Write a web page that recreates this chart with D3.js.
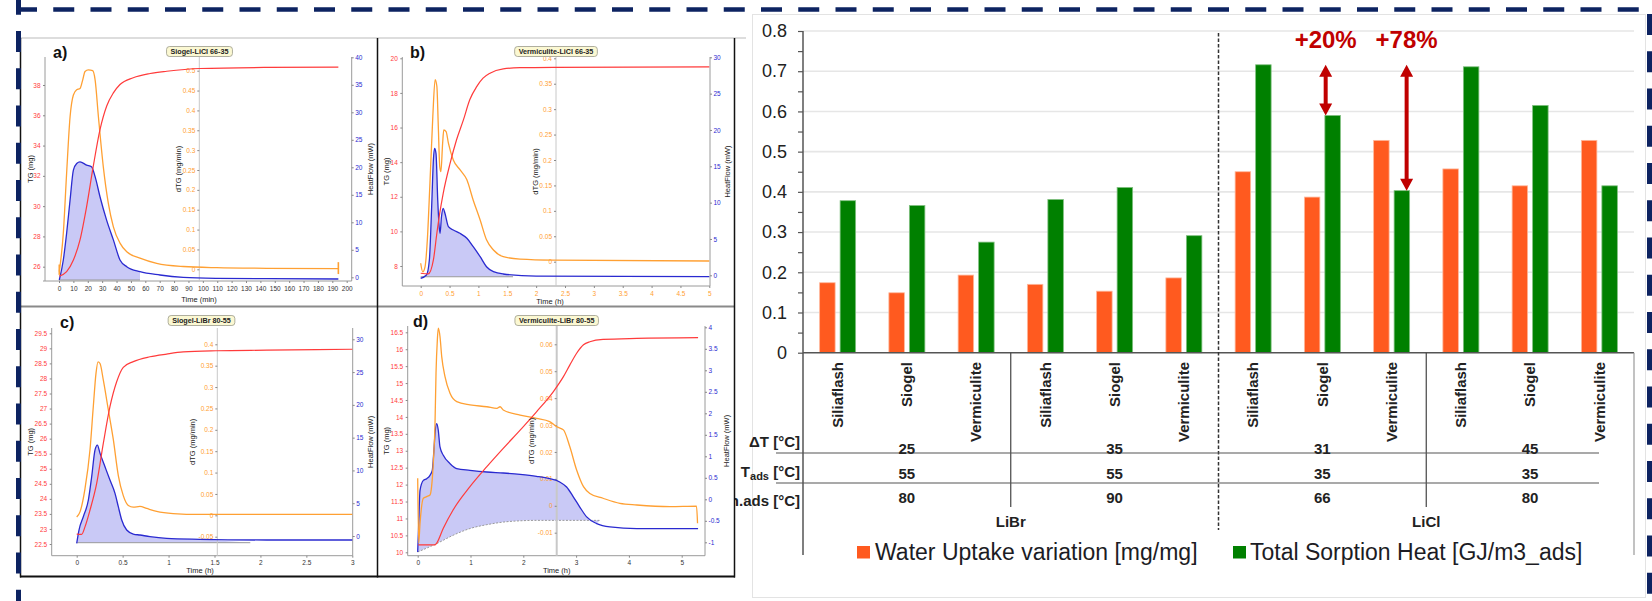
<!DOCTYPE html>
<html>
<head>
<meta charset="utf-8">
<script src="https://cdn.jsdelivr.net/npm/d3@7"></script>
<style>
  html, body { margin: 0; padding: 0; background: #fff; }
  svg { display: block; }
</style>
</head>
<body>
<svg id="fig" width="1652" height="601"></svg>
<script>
// ================= bar chart data =================
const categories = ["Siliaflash", "Siogel", "Vermiculite", "Siliaflash", "Siogel", "Vermiculite",
                    "Siliaflash", "Siogel", "Vermiculite", "Siliaflash", "Siogel", "Vermiculite"];
const waterUptake  = [0.174, 0.149, 0.193, 0.170, 0.153, 0.186, 0.450, 0.387, 0.528, 0.457, 0.415, 0.528];
const sorptionHeat = [0.378, 0.366, 0.275, 0.381, 0.411, 0.291, 0.716, 0.590, 0.403, 0.711, 0.615, 0.415];
const deltaT = ["25", "35", "31", "45"];
const tAds   = ["55", "55", "35", "35"];
const tDes   = ["80", "90", "66", "80"];
const salts  = ["LiBr", "LiCl"];
const yTickLabels = ["0", "0.1", "0.2", "0.3", "0.4", "0.5", "0.6", "0.7", "0.8"];
const seriesNames = ["Water Uptake variation [mg/mg]", "Total Sorption Heat [GJ/m3_ads]"];
const gains = [
  { label: "+20%", from: 6, to: 7 },
  { label: "+78%", from: 6, to: 8 }
];

// ================= thermogravimetric runs: [time, value] =================
// a) Siogel-LiCl 66-35, time in min
const aTg = [[0.2,25.38],[5.3,25.67],[10,26.44],[14.6,27.77],[19.2,29.97],[23.8,32.62],[28.5,35.05],[33.1,36.6],[37.8,37.48],[42.4,38.03],[51.6,38.48],[63.3,38.76],[74.9,38.91],[98,39.09],[144.4,39.16],[194.2,39.18]];
const aDtg = [[0.2,-0.006],[3.0,0.091],[5.3,0.242],[7.7,0.384],[10,0.439],[12.3,0.452],[14.6,0.455],[16.5,0.477],[18.1,0.498],[20.4,0.502],[23.4,0.5],[25.1,0.477],[27.4,0.384],[30.8,0.258],[34.3,0.166],[37.8,0.107],[42.4,0.066],[47.1,0.044],[56.3,0.028],[67.9,0.015],[86.4,0.007],[109.6,0.004],[144.4,0.0025],[194.2,0.0015]];
const aDtgMarks = [[0.2,-0.014,0.012],[194.2,-0.012,0.018]];
const aHf = [[0.2,-0.49],[3.0,3.15],[5.3,8.0],[7.7,14.05],[10,19.5],[12.3,20.7],[14.6,21.0],[19.2,20.4],[22.6,20.1],[25.1,18.3],[28.5,14.65],[33.1,10.4],[37.8,6.8],[42.4,3.15],[47.1,1.93],[56.3,1.02],[70.2,0.42],[86.4,0],[109.6,-0.18],[144.4,-0.25],[194.2,-0.31]];
const aHfBase = [[0.2,-0.49],[56.3,-0.49]];

// b) Vermiculite-LiCl 66-35, time in h
const bTg = [[0,7.58],[0.13,7.54],[0.22,8.35],[0.28,9.89],[0.33,11.05],[0.39,12.2],[0.51,13.94],[0.62,15.28],[0.74,16.44],[0.85,17.6],[0.97,18.36],[1.08,18.85],[1.2,19.14],[1.43,19.39],[1.72,19.46],[2.3,19.48],[5.0,19.5]];
const bDtg = [[0,-0.003],[0.035,-0.02],[0.075,-0.01],[0.115,0.043],[0.16,0.154],[0.21,0.286],[0.25,0.358],[0.28,0.345],[0.305,0.266],[0.33,0.187],[0.35,0.177],[0.38,0.233],[0.4,0.259],[0.44,0.256],[0.48,0.233],[0.565,0.2],[0.68,0.181],[0.8,0.161],[0.91,0.121],[1.03,0.082],[1.14,0.043],[1.26,0.023],[1.43,0.01],[1.72,0.005],[2.3,0.003],[5.0,0.0014]];
const bDtgMarks = [];
const bHf = [[0,-0.41],[0.1,0.04],[0.15,2.1],[0.19,9.44],[0.22,15.87],[0.24,17.47],[0.265,16.79],[0.295,10.36],[0.32,6.69],[0.335,5.78],[0.36,8.06],[0.39,9.22],[0.42,8.53],[0.48,6.69],[0.565,6.23],[0.68,5.78],[0.8,5.09],[0.91,3.94],[1.03,2.56],[1.14,1.18],[1.26,0.5],[1.43,0.18],[2.0,-0.1],[5.0,-0.19]];
const bHfBase = [[0,-0.2],[1.6,-0.2]];

// c) Siogel-LiBr 80-55, time in h
const cTg = [[0,22.83],[0.054,22.82],[0.09,23.07],[0.145,23.63],[0.218,24.52],[0.29,25.85],[0.362,27.06],[0.435,27.89],[0.507,28.37],[0.616,28.56],[0.797,28.72],[0.979,28.81],[1.16,28.88],[1.52,28.92],[2.07,28.94],[3.0,28.97]];
const cDtg = [[0,-0.004],[0.036,0.008],[0.09,0.062],[0.145,0.154],[0.181,0.255],[0.21,0.332],[0.232,0.359],[0.254,0.355],[0.29,0.316],[0.344,0.247],[0.398,0.178],[0.453,0.093],[0.507,0.046],[0.562,0.023],[0.616,0.019],[0.689,0.021],[0.762,0.016],[0.87,0.009],[1.05,0.004],[1.34,0.002],[3.0,0.002]];
const cDtgMarks = [];
const cHf = [[0,-1.12],[0.025,0.91],[0.072,2.94],[0.127,5.49],[0.163,9.04],[0.199,13.1],[0.225,13.87],[0.254,12.6],[0.308,10.56],[0.362,8.53],[0.417,6.5],[0.453,4.47],[0.49,2.44],[0.544,0.91],[0.616,0.3],[0.689,0.15],[0.797,-0.1],[0.979,-0.36],[1.34,-0.5],[2.07,-0.61],[3.0,-0.61]];
const cHfBase = [[0,-1.02],[1.89,-1.02]];

// d) Vermiculite-LiBr 80-55, time in h
const dTg = [[0.01,10.22],[0.33,10.22],[0.36,10.27],[0.485,10.71],[0.67,11.25],[0.99,11.94],[1.31,12.53],[1.62,13.07],[1.94,13.61],[2.25,14.15],[2.57,14.75],[2.76,15.19],[2.88,15.53],[3.01,15.88],[3.14,16.13],[3.26,16.22],[3.51,16.29],[4.15,16.32],[5.31,16.34]];
const dDtg = [[0,0.0102],[0.019,-0.0139],[0.044,-0.0065],[0.107,0.0028],[0.17,0.0034],[0.233,0.004],[0.263,0.0071],[0.295,0.0158],[0.328,0.0307],[0.347,0.0493],[0.372,0.0616],[0.39,0.066],[0.422,0.0629],[0.455,0.0554],[0.517,0.048],[0.612,0.0418],[0.739,0.0387],[0.99,0.0375],[1.31,0.0368],[1.5,0.0362],[1.56,0.0368],[1.62,0.0356],[1.94,0.0337],[2.25,0.0325],[2.5,0.0313],[2.63,0.0294],[2.76,0.0282],[2.88,0.022],[3.01,0.0133],[3.14,0.0071],[3.26,0.0046],[3.51,0.0028],[3.83,0.0009],[4.15,0.0003],[4.78,-0.0003],[5.28,-0.0001],[5.3,-0.0065]];
const dDtgMarks = [];
const dHf = [[0,-1.225],[0.019,-0.565],[0.044,0.209],[0.107,0.44],[0.17,0.48],[0.233,0.558],[0.276,0.674],[0.307,1.14],[0.333,1.605],[0.36,1.76],[0.39,1.605],[0.422,1.217],[0.485,1.023],[0.612,0.83],[0.739,0.713],[0.99,0.674],[1.31,0.635],[1.62,0.612],[1.94,0.58],[2.25,0.535],[2.5,0.48],[2.69,0.403],[2.82,0.286],[2.95,0.053],[3.07,-0.18],[3.2,-0.41],[3.39,-0.565],[3.64,-0.643],[4.15,-0.68],[4.78,-0.68],[5.31,-0.68]];
const dHfBase = [[0,-1.225],[0.36,-1.03],[0.67,-0.837],[0.99,-0.68],[1.31,-0.59],[1.62,-0.53],[1.94,-0.5],[2.25,-0.49],[3.45,-0.49]];

// tick values of the thermogram axes
const aTimeTicks = [0,10,20,30,40,50,60,70,80,90,100,110,120,130,140,150,160,170,180,190,200];
const aTgTicks = [26,28,30,32,34,36,38];
const aDtgTicks = [0,0.05,0.1,0.15,0.2,0.25,0.3,0.35,0.4,0.45,0.5];
const aHfTicks = [0,5,10,15,20,25,30,35,40];
const bTimeTicks = [0,0.5,1,1.5,2,2.5,3,3.5,4,4.5,5];
const bTgTicks = [8,10,12,14,16,18,20];
const bDtgTicks = [0,0.05,0.1,0.15,0.2,0.25,0.3,0.35,0.4];
const bHfTicks = [0,5,10,15,20,25,30];
const cTimeTicks = [0,0.5,1,1.5,2,2.5,3];
const cTgTicks = [22.5,23,23.5,24,24.5,25,25.5,26,26.5,27,27.5,28,28.5,29,29.5];
const cDtgTicks = [-0.05,0,0.05,0.1,0.15,0.2,0.25,0.3,0.35,0.4];
const cHfTicks = [0,5,10,15,20,25,30];
const dTimeTicks = [0,1,2,3,4,5];
const dTgTicks = [10,10.5,11,11.5,12,12.5,13,13.5,14,14.5,15,15.5,16,16.5];
const dDtgTicks = [-0.01,0,0.01,0.02,0.03,0.04,0.05,0.06];
const dHfTicks = [-1,-0.5,0,0.5,1,1.5,2,2.5,3,3.5,4];

// ================= drawing =================
const svg = d3.select("#fig");
const SANS = "'Liberation Sans', Arial, Helvetica, sans-serif";
const NARROW = "'Liberation Sans Narrow', 'Arial Narrow', 'Liberation Sans', sans-serif";

// ---------- bar chart ----------
const bc = svg.append("g");
bc.append("rect").attr("x", 752.5).attr("y", 14.5).attr("width", 893).attr("height", 583)
  .attr("fill", "#fff").attr("stroke", "#e3e3e3");

const x = d3.scaleBand().domain(d3.range(categories.length)).range([803, 1634]);
const bw = x.bandwidth();
const xs = d3.scaleBand().domain([0, 1]).range([-18, 18]).paddingInner(0.244);
const y = d3.scaleLinear().domain([0, 0.8]).range([352.7, 31]);
const yVals = yTickLabels.map(Number);

// horizontal gridlines
bc.append("g").selectAll("line").data(yVals.filter(v => v > 0)).join("line")
  .attr("x1", 803).attr("x2", 1634).attr("y1", d => y(d)).attr("y2", d => y(d))
  .attr("stroke", "#e6e6e6").attr("stroke-width", 1.6);

// value axis with half-step ticks
const halfSteps = d3.range(0, 17).map(i => i * 0.05);
bc.append("g").attr("transform", "translate(803,0)")
  .call(d3.axisLeft(y).tickValues(halfSteps).tickSize(5).tickPadding(11)
    .tickFormat((d, i) => i % 2 === 0 ? yTickLabels[i / 2] : ""))
  .call(g => g.select(".domain").remove())
  .call(g => g.selectAll(".tick line").attr("stroke", "#555").attr("stroke-width", 1.2))
  .call(g => g.selectAll(".tick text").attr("fill", "#222").attr("font-size", 18).attr("font-family", SANS));
bc.append("line").attr("x1", 803).attr("x2", 803).attr("y1", 31).attr("y2", 555)
  .attr("stroke", "#555").attr("stroke-width", 1.5);

// bars
const barColors = ["#ff5a1f", "#008000"];
const barEdges = ["#ffb89c", "#80c080"];
[waterUptake, sorptionHeat].forEach((vals, s) => {
  bc.append("g").selectAll("rect").data(vals).join("rect")
    .attr("x", (d, i) => x(i) + bw / 2 + xs(s))
    .attr("width", xs.bandwidth())
    .attr("y", d => y(d))
    .attr("height", d => y(0) - y(d))
    .attr("fill", barColors[s])
    .attr("stroke", barEdges[s]).attr("stroke-width", 0.8);
});

// category axis and table frame
bc.append("line").attr("x1", 803).attr("x2", 1634).attr("y1", y(0)).attr("y2", y(0))
  .attr("stroke", "#555").attr("stroke-width", 1.5);
bc.append("line").attr("x1", 1634).attr("x2", 1634).attr("y1", y(0)).attr("y2", 555)
  .attr("stroke", "#999").attr("stroke-width", 1.2);
[3, 9].forEach(k => {
  bc.append("line").attr("x1", x(k)).attr("x2", x(k)).attr("y1", y(0)).attr("y2", 507)
    .attr("stroke", "#444").attr("stroke-width", 1.2);
});
bc.append("line").attr("x1", x(6)).attr("x2", x(6)).attr("y1", 33).attr("y2", 530)
  .attr("stroke", "#333").attr("stroke-width", 1.5).attr("stroke-dasharray", "3.5 2");
[453, 483].forEach(yy => {
  bc.append("line").attr("x1", 776).attr("x2", 1599).attr("y1", yy).attr("y2", yy)
    .attr("stroke", "#555").attr("stroke-width", 1.2);
});

// category labels
bc.append("g").selectAll("text").data(categories).join("text")
  .attr("transform", (d, i) => `translate(${x(i) + bw / 2},362) rotate(-90)`)
  .attr("text-anchor", "end").attr("dy", "0.35em")
  .attr("font-family", NARROW).attr("font-weight", "bold").attr("font-size", 15)
  .attr("fill", "#222").text(d => d);

// table row labels
const rowLab = bc.append("g").attr("font-family", NARROW).attr("font-weight", "bold")
  .attr("font-size", 15).attr("fill", "#222").attr("text-anchor", "end");
rowLab.append("text").attr("x", 800).attr("y", 447).text("ΔT [°C]");
const tr = rowLab.append("text").attr("x", 800).attr("y", 477);
tr.append("tspan").text("T");
tr.append("tspan").attr("font-size", 11).attr("dy", 3).text("ads");
tr.append("tspan").attr("dy", -3).text(" [°C]");
rowLab.append("text").attr("x", 800).attr("y", 506).text("Tmin.ads [°C]");

// table values, one column per condition group
const groupCenter = gi => x(gi * 3 + 1) + bw / 2;
const valG = bc.append("g").attr("font-family", NARROW).attr("font-weight", "bold")
  .attr("font-size", 15).attr("fill", "#222").attr("text-anchor", "middle");
[[deltaT, 454], [tAds, 479], [tDes, 503]].forEach(([row, yy]) => {
  valG.selectAll(null).data(row).join("text")
    .attr("x", (d, i) => groupCenter(i)).attr("y", yy).text(d => d);
});
valG.selectAll(null).data(salts).join("text")
  .attr("x", (d, i) => x(i * 6 + 3)).attr("y", 527).text(d => d);

// legend
const legendLayout = [{ sx: 857, tx: 875 }, { sx: 1233, tx: 1250 }];
seriesNames.forEach((name, s) => {
  bc.append("rect").attr("x", legendLayout[s].sx).attr("y", 546).attr("width", 13).attr("height", 12.5)
    .attr("fill", barColors[s]);
  bc.append("text").attr("x", legendLayout[s].tx).attr("y", 560)
    .attr("font-family", SANS).attr("font-size", 23).attr("fill", "#1c1c24").text(name);
});

// gain annotations between total sorption heat bars
const gainOffsets = [3.3, 15];
const RED = "#c00000";
gains.forEach((gn, k) => {
  const ax = x(gn.to) + bw / 2 + gainOffsets[k];
  const yTop = y(sorptionHeat[gn.from]);
  const yBot = y(sorptionHeat[gn.to]);
  const ah = 12, aw = 6.5;
  bc.append("line").attr("x1", ax).attr("x2", ax).attr("y1", yTop + ah - 1).attr("y2", yBot - ah + 1)
    .attr("stroke", RED).attr("stroke-width", 4);
  bc.append("path").attr("fill", RED)
    .attr("d", `M${ax},${yTop}L${ax - aw},${yTop + ah}L${ax + aw},${yTop + ah}Z M${ax},${yBot}L${ax - aw},${yBot - ah}L${ax + aw},${yBot - ah}Z`);
  bc.append("text").attr("x", ax).attr("y", 48).attr("text-anchor", "middle")
    .attr("font-family", SANS).attr("font-weight", "bold").attr("font-size", 24)
    .attr("fill", RED).text(gn.label);
});

// ---------- thermogram panels ----------
const panels = svg.append("g");
panels.append("rect").attr("x", 20).attr("y", 38).attr("width", 715).attr("height", 539).attr("fill", "#fff");

const C_TG = "#ff3b3b", C_DTG = "#ffa033", C_HF = "#2a2ad0", C_FILL = "#c6c6f6";
const fmt = d => String(+d.toFixed(3));

function drawPanel(p) {
  const g = panels.append("g").attr("font-family", SANS);
  const xT = d3.scaleLinear().domain(p.xDom).range(p.xRange);
  const yTg = d3.scaleLinear().domain(p.tgDom).range(p.tgRange);
  const yDtg = d3.scaleLinear().domain(p.dtgDom).range(p.dtgRange);
  const yHf = d3.scaleLinear().domain(p.hfDom).range(p.hfRange);

  // heat flow integration area between curve and baseline
  const tEnd = p.hfBase[p.hfBase.length - 1][0];
  const seg = p.hf.filter(d => d[0] <= tEnd);
  const upper = d3.line().x(d => xT(d[0])).y(d => yHf(d[1])).curve(d3.curveMonotoneX)(seg);
  const lower = d3.line().x(d => xT(d[0])).y(d => yHf(d[1])).curve(d3.curveMonotoneX)(p.hfBase.slice().reverse());
  g.append("path").attr("d", upper + "L" + lower.slice(1) + "Z").attr("fill", C_FILL).attr("opacity", 0.95);
  g.append("path").attr("d", d3.line().x(d => xT(d[0])).y(d => yHf(d[1])).curve(d3.curveMonotoneX)(p.hfBase))
    .attr("fill", "none").attr("stroke", "#9a9a9a").attr("stroke-width", 1).attr("stroke-dasharray", p.baseDash || null);

  // axis lines
  const axisLine = (x1, y1, x2, y2, w, c) => g.append("line").attr("x1", x1).attr("y1", y1).attr("x2", x2).attr("y2", y2)
    .attr("stroke", c || "#9a9a9a").attr("stroke-width", w || 1);
  axisLine(p.tgAxisX, p.top, p.tgAxisX, p.xAxisY);
  axisLine(p.xLine[0], p.xAxisY, p.xLine[1], p.xAxisY);
  axisLine(p.hfAxisX, p.top, p.hfAxisX, p.xAxisY);
  axisLine(p.dtgAxisX, p.top, p.dtgAxisX, p.xAxisY, p.dtgW || 1, "#c8c8c8");

  const styleAxis = (color) => (a) => {
    a.select(".domain").remove();
    a.selectAll(".tick line").attr("stroke", "#888");
    a.selectAll(".tick text").attr("fill", color).attr("font-size", 6.5).attr("font-family", SANS);
  };
  g.append("g").attr("transform", `translate(0,${p.xAxisY})`)
    .call(d3.axisBottom(xT).tickValues(p.xTicks).tickSize(2).tickPadding(3).tickFormat(fmt))
    .call(styleAxis(p.xTickColor));
  g.append("g").attr("transform", `translate(${p.tgAxisX},0)`)
    .call(d3.axisLeft(yTg).tickValues(p.tgTicks).tickSize(2).tickPadding(2.5).tickFormat(fmt))
    .call(styleAxis(C_TG));
  g.append("g").attr("transform", `translate(${p.dtgAxisX},0)`)
    .call(d3.axisLeft(yDtg).tickValues(p.dtgTicks).tickSize(2).tickPadding(2).tickFormat(fmt))
    .call(styleAxis(C_DTG));
  g.append("g").attr("transform", `translate(${p.hfAxisX},0)`)
    .call(d3.axisRight(yHf).tickValues(p.hfTicks).tickSize(2).tickPadding(1.5).tickFormat(fmt))
    .call(styleAxis(C_HF));

  // curves
  const curve = (data, sc, color, w) => g.append("path")
    .attr("d", d3.line().x(d => xT(d[0])).y(d => sc(d[1])).curve(d3.curveMonotoneX)(data))
    .attr("fill", "none").attr("stroke", color).attr("stroke-width", w).attr("stroke-linejoin", "round");
  curve(p.hf, yHf, C_HF, 1.3);
  curve(p.dtg, yDtg, C_DTG, 1.3);
  curve(p.tg, yTg, C_TG, 1.2);
  // start / end markers of the dTG trace
  g.append("g").selectAll("line").data(p.dtgMarks).join("line")
    .attr("x1", d => xT(d[0])).attr("x2", d => xT(d[0]))
    .attr("y1", d => yDtg(d[1])).attr("y2", d => yDtg(d[2]))
    .attr("stroke", C_DTG).attr("stroke-width", 1.6);

  // axis titles
  const midY = (p.top + p.xAxisY) / 2;
  const vtitle = (xx, txt) => g.append("text").attr("transform", `translate(${xx},${midY}) rotate(-90)`)
    .attr("text-anchor", "middle").attr("dy", "0.35em").attr("font-size", 7.5).attr("fill", "#222").text(txt);
  vtitle(p.tgLabelX, "TG (mg)");
  vtitle(p.dtgLabelX, "dTG (mg/min)");
  vtitle(p.hfLabelX, "HeatFlow (mW)");
  g.append("text").attr("x", p.xLabelPos[0]).attr("y", p.xLabelPos[1]).attr("text-anchor", "middle")
    .attr("font-size", 7.5).attr("fill", "#222").text(p.xLabel);

  // run title tag
  const tt = g.append("text").attr("x", p.titlePos[0]).attr("y", p.titlePos[1]).attr("text-anchor", "middle")
    .attr("dy", "0.35em").attr("font-size", 7.2).attr("font-weight", "bold").attr("fill", "#222").text(p.title);
  const tw = tt.node().getComputedTextLength();
  g.insert("rect", () => tt.node())
    .attr("x", p.titlePos[0] - tw / 2 - 4).attr("y", p.titlePos[1] - 5).attr("width", tw + 8).attr("height", 10)
    .attr("rx", 3).attr("fill", "#fbf8d2").attr("stroke", "#9a9a8a").attr("stroke-width", 0.8);

  // panel letter
  g.append("text").attr("x", p.letterPos[0]).attr("y", p.letterPos[1]).attr("font-size", 16)
    .attr("font-weight", "bold").attr("fill", "#111").text(p.letter);
}

drawPanel({
  letter: "a)", letterPos: [53, 58], title: "Siogel-LiCl 66-35", titlePos: [199.5, 51.5],
  tg: aTg, dtg: aDtg, dtgMarks: aDtgMarks, hf: aHf, hfBase: aHfBase,
  xDom: [0, 200], xRange: [59, 346.7], xTicks: aTimeTicks, xTickColor: "#333",
  xAxisY: 281, xLine: [43, 351.7], xLabel: "Time (min)", xLabelPos: [199, 302],
  tgDom: [26, 38], tgRange: [266.7, 85], tgTicks: aTgTicks, tgAxisX: 45, tgLabelX: 30,
  dtgDom: [0, 0.5], dtgRange: [269.3, 70.7], dtgTicks: aDtgTicks, dtgAxisX: 199.3, dtgLabelX: 178,
  hfDom: [0, 40], hfRange: [277.3, 57.3], hfTicks: aHfTicks, hfAxisX: 351.7, hfLabelX: 370,
  top: 57
});
drawPanel({
  letter: "b)", letterPos: [410, 58], title: "Vermiculite-LiCl 66-35", titlePos: [556, 51.5],
  tg: bTg, dtg: bDtg, dtgMarks: bDtgMarks, hf: bHf, hfBase: bHfBase,
  xDom: [0, 5], xRange: [420.7, 709.3], xTicks: bTimeTicks, xTickColor: C_DTG,
  xAxisY: 286, xLine: [402.3, 710], xLabel: "Time (h)", xLabelPos: [550, 304],
  tgDom: [8, 20], tgRange: [266, 58.3], tgTicks: bTgTicks, tgAxisX: 402.3, tgLabelX: 386.7,
  dtgDom: [0, 0.4], dtgRange: [261.7, 58.3], dtgTicks: bDtgTicks, dtgAxisX: 556, dtgLabelX: 535.7,
  hfDom: [0, 30], hfRange: [275.3, 57.3], hfTicks: bHfTicks, hfAxisX: 710, hfLabelX: 727.7,
  top: 57
});
drawPanel({
  letter: "c)", letterPos: [60, 328], title: "Siogel-LiBr 80-55", titlePos: [201.5, 320.5],
  tg: cTg, dtg: cDtg, dtgMarks: cDtgMarks, hf: cHf, hfBase: cHfBase,
  xDom: [0, 3], xRange: [76.7, 352.3], xTicks: cTimeTicks, xTickColor: "#333",
  xAxisY: 555.7, xLine: [51.7, 352.7], xLabel: "Time (h)", xLabelPos: [200, 573],
  tgDom: [22.5, 29.5], tgRange: [544, 333.3], tgTicks: cTgTicks, tgAxisX: 51.7, tgLabelX: 30,
  dtgDom: [-0.05, 0.4], dtgRange: [536.7, 344.3], dtgTicks: cDtgTicks, dtgAxisX: 217.3, dtgLabelX: 192.7,
  hfDom: [0, 30], hfRange: [536, 339.3], hfTicks: cHfTicks, hfAxisX: 352.7, hfLabelX: 370,
  top: 328
});
drawPanel({
  letter: "d)", letterPos: [413, 326.7], title: "Vermiculite-LiBr 80-55", titlePos: [556.7, 320.5],
  tg: dTg, dtg: dDtg, dtgMarks: dDtgMarks, hf: dHf, hfBase: dHfBase, baseDash: "2 1.5",
  xDom: [0, 5], xRange: [417.7, 681.7], xTicks: dTimeTicks, xTickColor: "#333",
  xAxisY: 555.7, xLine: [407.7, 705], xLabel: "Time (h)", xLabelPos: [556.7, 573],
  tgDom: [10, 16.5], tgRange: [552.3, 332.3], tgTicks: dTgTicks, tgAxisX: 407.7, tgLabelX: 386.7,
  dtgDom: [-0.01, 0.06], dtgRange: [532.7, 344.3], dtgTicks: dDtgTicks, dtgAxisX: 556.7, dtgLabelX: 531.7, dtgW: 2,
  hfDom: [-1, 4], hfRange: [542.3, 327.3], hfTicks: dHfTicks, hfAxisX: 705, hfLabelX: 726.7,
  top: 326
});

// panel frames
const fr = panels.append("g");
fr.append("line").attr("x1", 20).attr("x2", 746).attr("y1", 38).attr("y2", 38).attr("stroke", "#bbb").attr("stroke-width", 1);
fr.append("line").attr("x1", 20).attr("x2", 735).attr("y1", 306.5).attr("y2", 306.5).attr("stroke", "#8a8a8a").attr("stroke-width", 2);
fr.append("line").attr("x1", 20).attr("x2", 735).attr("y1", 576.5).attr("y2", 576.5).attr("stroke", "#111").attr("stroke-width", 2);
[20.5, 377.5, 734.5].forEach(xx => {
  fr.append("line").attr("x1", xx).attr("x2", xx).attr("y1", 38).attr("y2", 577.5).attr("stroke", "#111").attr("stroke-width", 1.5);
});

// ---------- dashed page frame ----------
const frame = svg.append("g").attr("stroke", "#0d2361").attr("stroke-width", 5)
  .attr("stroke-dasharray", "21 16.25").attr("fill", "none");
frame.append("line").attr("x1", 16).attr("x2", 1660).attr("y1", 9.5).attr("y2", 9.5).attr("stroke-width", 4.5);
frame.append("line").attr("x1", 18.5).attr("x2", 18.5).attr("y1", -6.3).attr("y2", 620);
frame.append("line").attr("x1", 1649.5).attr("x2", 1649.5).attr("y1", -23.2).attr("y2", 620);
</script>
</body>
</html>
